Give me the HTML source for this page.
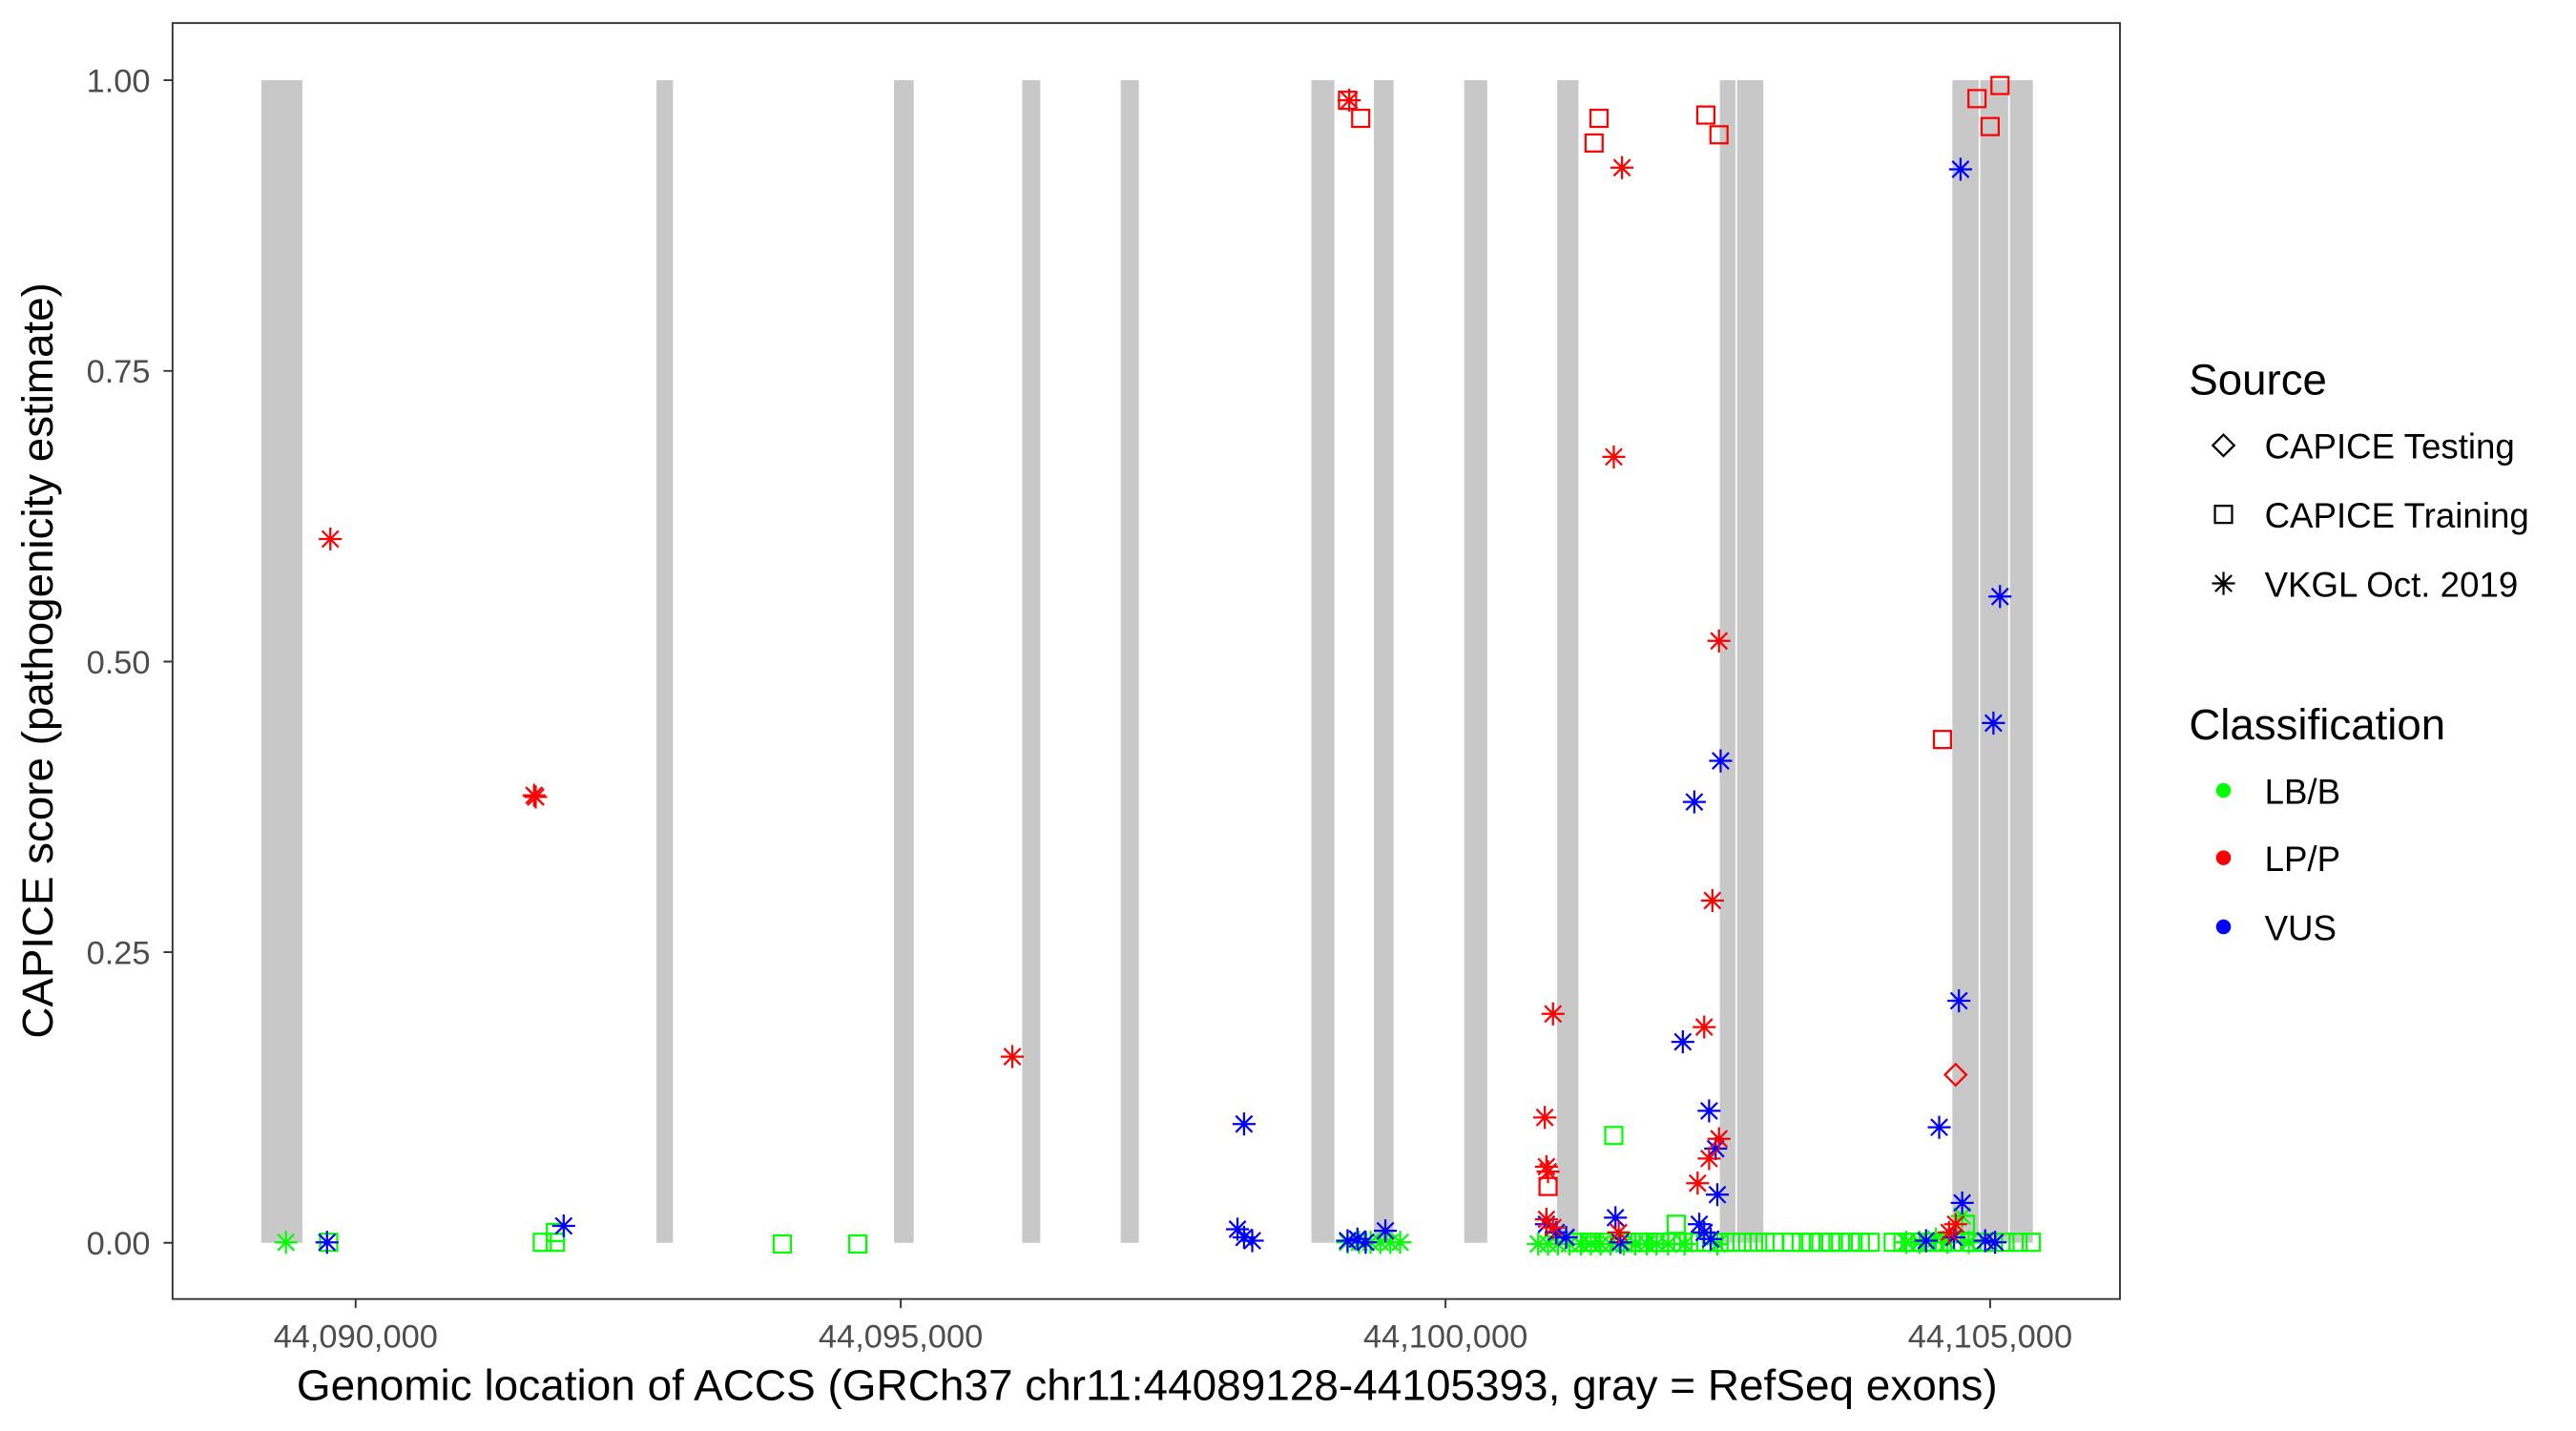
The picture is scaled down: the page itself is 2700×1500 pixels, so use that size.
<!DOCTYPE html>
<html><head><meta charset="utf-8"><style>
html,body{margin:0;padding:0;background:#fff;}
svg{display:block;}
text{font-family:"Liberation Sans",Arial,sans-serif;}
</style></head><body>
<svg width="2700" height="1500" viewBox="0 0 1567.5 870.8" xmlns="http://www.w3.org/2000/svg">
<defs>
<g id="a" fill="none" stroke-width="1.3"><path d="M0,-7V7M-7,0H7M-5,-5L5,5M-5,5L5,-5" stroke="currentColor"/></g>
<g id="s" fill="none" stroke-width="1.3"><rect x="-5.2" y="-5.2" width="10.4" height="10.4" stroke="currentColor"/></g>
<g id="d" fill="none" stroke-width="1.3"><path d="M0,-6.5L6.5,0L0,6.5L-6.5,0Z" stroke="currentColor"/></g>
</defs>
<rect width="1567.5" height="870.8" fill="#fff"/>
<g fill="#c8c8c8">
<rect x="159" y="48.8" width="25" height="707.5"/>
<rect x="399.5" y="48.8" width="10" height="707.5"/>
<rect x="544" y="48.8" width="12" height="707.5"/>
<rect x="622" y="48.8" width="11" height="707.5"/>
<rect x="682" y="48.8" width="11" height="707.5"/>
<rect x="798" y="48.8" width="14" height="707.5"/>
<rect x="836" y="48.8" width="12" height="707.5"/>
<rect x="891" y="48.8" width="14" height="707.5"/>
<rect x="947.5" y="48.8" width="13" height="707.5"/>
<rect x="1046.5" y="48.8" width="9.5" height="707.5"/>
<rect x="1057" y="48.8" width="16" height="707.5"/>
<rect x="1188" y="48.8" width="16" height="707.5"/>
<rect x="1205" y="48.8" width="17" height="707.5"/>
<rect x="1223" y="48.8" width="14" height="707.5"/>
</g>
<g color="#00ff00">
<use href="#a" x="174" y="756"/><use href="#s" x="200" y="756"/><use href="#s" x="330" y="756"/><use href="#s" x="338" y="750"/><use href="#s" x="338" y="756"/><use href="#s" x="476" y="757"/><use href="#s" x="522" y="757"/>
<use href="#a" x="820" y="756"/><use href="#a" x="827" y="756"/><use href="#a" x="834" y="756"/><use href="#a" x="840" y="756"/><use href="#a" x="846" y="756"/><use href="#a" x="852" y="756"/>
<use href="#a" x="936" y="757"/><use href="#a" x="942" y="757"/><use href="#a" x="948" y="757"/><use href="#a" x="955" y="757"/><use href="#a" x="962" y="757"/><use href="#a" x="968" y="757"/><use href="#a" x="974" y="757"/><use href="#a" x="980" y="757"/><use href="#a" x="988" y="757"/><use href="#a" x="995" y="757"/><use href="#a" x="1002" y="757"/><use href="#a" x="1008" y="757"/><use href="#a" x="1015" y="757"/><use href="#a" x="1025" y="757"/><use href="#a" x="1045" y="757"/>
<use href="#s" x="960" y="756"/><use href="#s" x="968" y="756"/><use href="#s" x="976" y="756"/><use href="#s" x="990" y="756"/><use href="#s" x="998" y="756"/><use href="#s" x="982" y="691"/><use href="#s" x="1020" y="745"/>
<use href="#s" x="1003" y="756"/><use href="#s" x="1010" y="756"/><use href="#s" x="1017" y="756"/><use href="#s" x="1024" y="756"/><use href="#s" x="1031" y="756"/><use href="#s" x="1038" y="756"/><use href="#s" x="1046" y="756"/><use href="#s" x="1053" y="756"/><use href="#s" x="1060" y="756"/><use href="#s" x="1067" y="756"/><use href="#s" x="1074" y="756"/><use href="#s" x="1080" y="756"/><use href="#s" x="1090" y="756"/><use href="#s" x="1096" y="756"/><use href="#s" x="1102" y="756"/><use href="#s" x="1108" y="756"/><use href="#s" x="1114" y="756"/><use href="#s" x="1120" y="756"/><use href="#s" x="1126" y="756"/><use href="#s" x="1132" y="756"/><use href="#s" x="1138" y="756"/><use href="#s" x="1152" y="756"/><use href="#s" x="1158" y="756"/><use href="#s" x="1164" y="756"/><use href="#s" x="1170" y="756"/><use href="#s" x="1176" y="756"/><use href="#s" x="1182" y="756"/><use href="#s" x="1188" y="756"/><use href="#s" x="1196" y="745"/><use href="#s" x="1200" y="756"/><use href="#s" x="1206" y="756"/><use href="#s" x="1213" y="756"/><use href="#s" x="1220" y="756"/><use href="#s" x="1228" y="756"/><use href="#s" x="1236" y="756"/>
<use href="#a" x="1160" y="756"/><use href="#a" x="1168" y="756"/><use href="#a" x="1178" y="754"/><use href="#a" x="1185" y="756"/><use href="#a" x="1194" y="740"/><use href="#a" x="1198" y="756"/>
</g>
<g color="#0000ff">
<use href="#a" x="199" y="756"/><use href="#a" x="343" y="746"/><use href="#a" x="757" y="684"/><use href="#a" x="753" y="748"/><use href="#a" x="757" y="753"/><use href="#a" x="762" y="755"/>
<use href="#a" x="820" y="755"/><use href="#a" x="826" y="754"/><use href="#a" x="831" y="756"/><use href="#a" x="843" y="749"/>
<use href="#a" x="941" y="745"/><use href="#a" x="947" y="750"/><use href="#a" x="953" y="753"/><use href="#a" x="983" y="741"/><use href="#a" x="986" y="756"/>
<use href="#a" x="1031" y="488"/><use href="#a" x="1047" y="463"/><use href="#a" x="1024" y="634"/><use href="#a" x="1040" y="676"/><use href="#a" x="1044" y="699"/><use href="#a" x="1045" y="727"/><use href="#a" x="1034" y="745"/><use href="#a" x="1037" y="750"/><use href="#a" x="1041" y="754"/>
<use href="#a" x="1193" y="103"/><use href="#a" x="1217" y="363"/><use href="#a" x="1213" y="440"/><use href="#a" x="1192" y="609"/><use href="#a" x="1180" y="686"/><use href="#a" x="1194" y="732"/><use href="#a" x="1172" y="755"/><use href="#a" x="1208" y="755"/><use href="#a" x="1214" y="756"/><use href="#a" x="1189" y="753"/>
</g>
<g color="#ff0000">
<use href="#a" x="201" y="328"/><use href="#a" x="325" y="484"/><use href="#a" x="326" y="485"/><use href="#a" x="616" y="643"/><use href="#a" x="821" y="61"/><use href="#a" x="987" y="102"/><use href="#a" x="982" y="278"/><use href="#a" x="1046" y="390"/><use href="#a" x="1042" y="548"/><use href="#a" x="945" y="617"/><use href="#a" x="940" y="680"/><use href="#a" x="941" y="710"/><use href="#a" x="942" y="713"/><use href="#a" x="1037" y="625"/><use href="#a" x="1040" y="705"/><use href="#a" x="1046" y="693"/><use href="#a" x="1033" y="720"/><use href="#a" x="941" y="742"/><use href="#a" x="945" y="747"/><use href="#a" x="985" y="750"/><use href="#a" x="1190" y="745"/><use href="#a" x="1186" y="750"/>
<use href="#s" x="820" y="61"/><use href="#s" x="828" y="72"/><use href="#s" x="973" y="72"/><use href="#s" x="970" y="87"/><use href="#s" x="1038" y="70"/><use href="#s" x="1046" y="82"/><use href="#s" x="1203" y="60"/><use href="#s" x="1217" y="52"/><use href="#s" x="1211" y="77"/><use href="#s" x="1182" y="450"/><use href="#s" x="942" y="722"/>
<use href="#d" x="1190" y="654"/>
</g>
<rect x="105" y="14" width="1185" height="776.5" fill="none" stroke="#333" stroke-width="1.1"/>
<g stroke="#333" stroke-width="1.1">
<path d="M99.5,48.8H105M99.5,225.7H105M99.5,402.6H105M99.5,579.4H105M99.5,756.3H105"/>
<path d="M216.4,790.5V796M548.1,790.5V796M879.6,790.5V796M1211,790.5V796"/>
</g>
<g fill="#4d4d4d" font-size="20" text-anchor="end">
<text x="91.5" y="56">1.00</text><text x="91.5" y="232.9">0.75</text><text x="91.5" y="409.8">0.50</text><text x="91.5" y="586.6">0.25</text><text x="91.5" y="763.5">0.00</text>
</g>
<g fill="#4d4d4d" font-size="20" text-anchor="middle">
<text x="216.4" y="820">44,090,000</text><text x="548.1" y="820">44,095,000</text><text x="879.6" y="820">44,100,000</text><text x="1211" y="820">44,105,000</text>
</g>
<text x="698" y="852" font-size="26.5" text-anchor="middle" textLength="1035" lengthAdjust="spacingAndGlyphs">Genomic location of ACCS (GRCh37 chr11:44089128-44105393, gray = RefSeq exons)</text>
<text transform="translate(32,402) rotate(-90)" font-size="26.5" text-anchor="middle" textLength="460" lengthAdjust="spacingAndGlyphs">CAPICE score (pathogenicity estimate)</text>
<text x="1332" y="240" font-size="26.5">Source</text>
<g color="#000"><use href="#d" x="1353" y="271"/><use href="#s" x="1353" y="313"/><use href="#a" x="1353" y="355"/></g>
<g font-size="21.3"><text x="1378" y="279">CAPICE Testing</text><text x="1378" y="321">CAPICE Training</text><text x="1378" y="363">VKGL Oct. 2019</text></g>
<text x="1332" y="450" font-size="26.5">Classification</text>
<circle cx="1353" cy="481" r="4.5" fill="#00ff00"/><circle cx="1353" cy="522" r="4.5" fill="#ff0000"/><circle cx="1353" cy="564" r="4.5" fill="#0000ff"/>
<g font-size="21.3"><text x="1378" y="489">LB/B</text><text x="1378" y="530">LP/P</text><text x="1378" y="572">VUS</text></g>
</svg>
</body></html>
